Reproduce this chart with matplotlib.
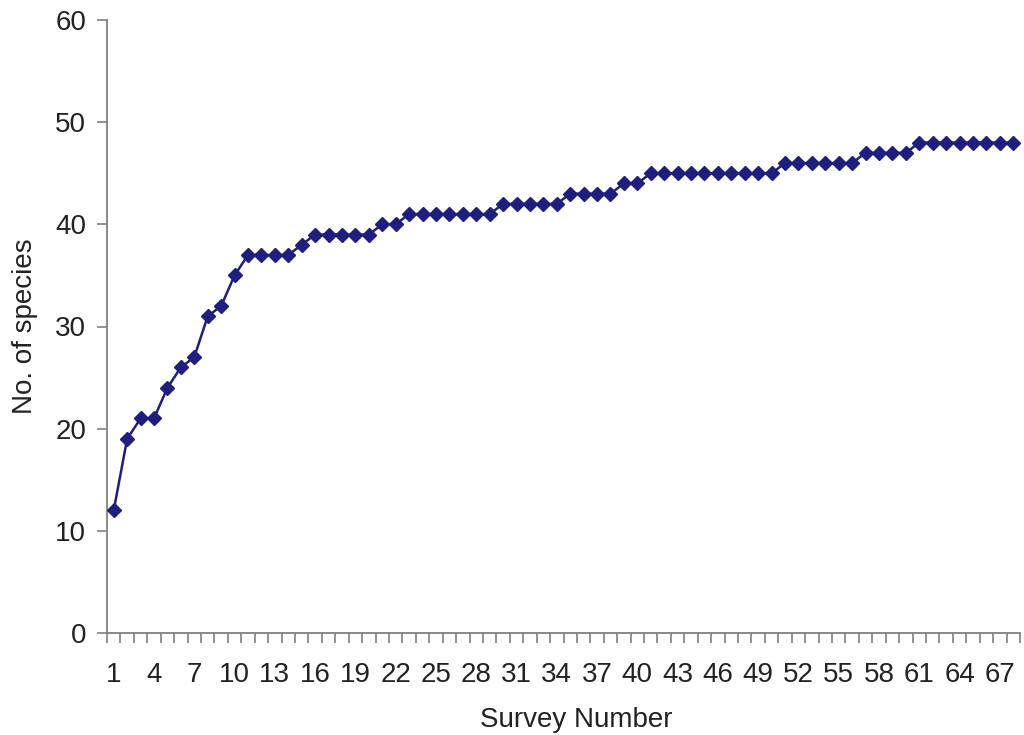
import matplotlib
matplotlib.use("Agg")
import matplotlib.pyplot as plt
import numpy as np

plt.rcParams['font.family'] = ['Liberation Sans', 'DejaVu Sans']

surveys = list(range(1, 69))
species = [12, 19, 21, 21, 24, 26, 27, 31, 32, 35,
           37, 37, 37, 37, 38, 39, 39, 39, 39, 39,
           40, 40, 41, 41, 41, 41, 41, 41, 41, 42,
           42, 42, 42, 42, 43, 43, 43, 43, 44, 44,
           45, 45, 45, 45, 45, 45, 45, 45, 45, 45,
           46, 46, 46, 46, 46, 46, 47, 47, 47, 47,
           48, 48, 48, 48, 48, 48, 48, 48]
xtick_labels = [str(s) for s in surveys[::3]]
yticks = [0, 10, 20, 30, 40, 50, 60]

fig = plt.figure(figsize=(10.24, 7.35), dpi=100)
ax = fig.add_axes([107/1024, 102/735, 913/1024, 613/735])

color = '#1E1E7E'
ax.plot(surveys, species, color=color, linewidth=1.8, marker='D', markersize=7.5,
        markerfacecolor=color, markeredgecolor=color, clip_on=False, zorder=3)

ax.set_xlim(0.5, 68.5)
ax.set_ylim(0, 60)

for s in ['top', 'right']:
    ax.spines[s].set_visible(False)
for s in ['left', 'bottom']:
    ax.spines[s].set_color('#808080')
    ax.spines[s].set_linewidth(1.3)

ax.set_yticks(yticks)
ax.tick_params(axis='y', direction='out', length=7, width=1.2, color='#808080',
               labelsize=20, pad=8, labelcolor='#222222')

ax.set_xticks(surveys[::3])
ax.set_xticklabels(xtick_labels)
ax.set_xticks(np.arange(0.5, 69, 1), minor=True)
ax.tick_params(axis='x', which='major', length=0, labelsize=20, pad=21, labelcolor='#222222')
ax.tick_params(axis='x', which='minor', direction='out', length=7, width=1.2, color='#808080')

ax.set_xlabel('Survey Number', fontsize=20, color='#222222')
ax.xaxis.set_label_coords(0.514, -0.121)
ax.set_ylabel('No. of species', fontsize=20, color='#222222', labelpad=12)

fig.savefig('out.png', dpi=100)
